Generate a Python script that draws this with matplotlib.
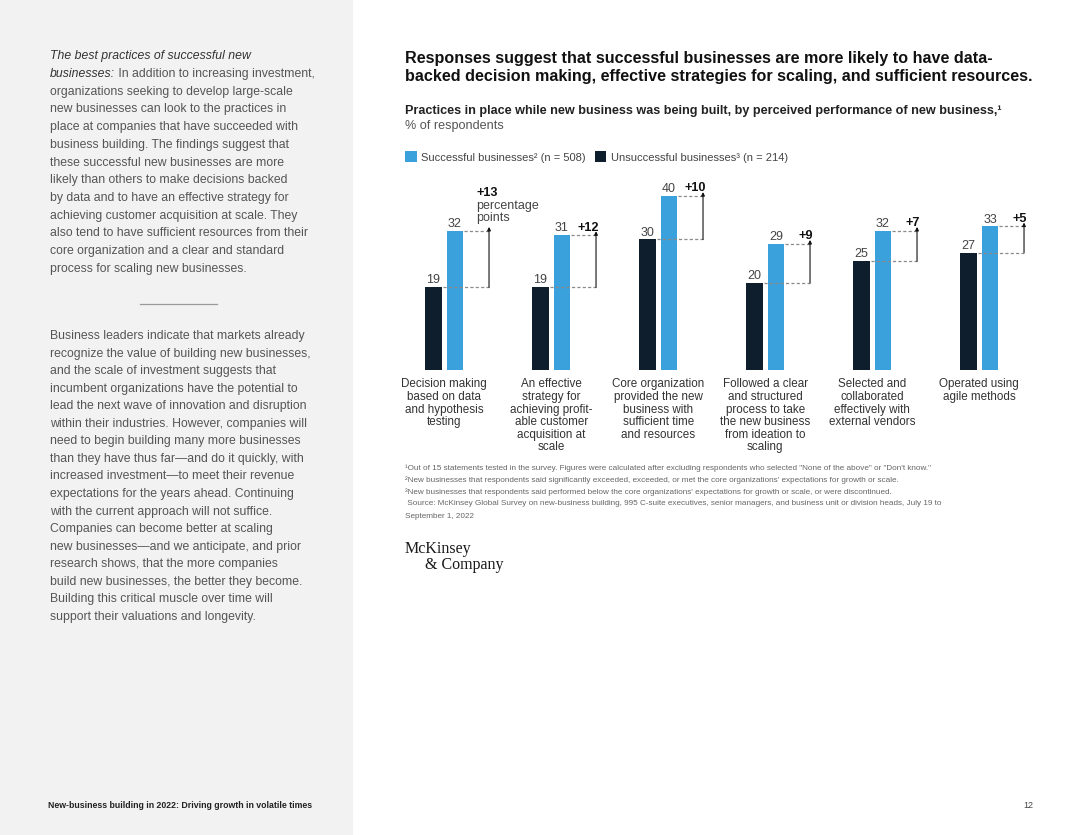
import matplotlib
matplotlib.use("Agg")
import matplotlib.pyplot as plt
from matplotlib.patches import Rectangle, Patch
from matplotlib.lines import Line2D

plt.rcParams['font.family'] = ['Liberation Sans', 'DejaVu Sans']

# data
categories = [
    "Decision making\nbased on data\nand hypothesis\ntesting",
    "An effective\nstrategy for\nachieving profit-\nable customer\nacquisition at\nscale",
    "Core organization\nprovided the new\nbusiness with\nsufficient time\nand resources",
    "Followed a clear\nand structured\nprocess to take\nthe new business\nfrom ideation to\nscaling",
    "Selected and\ncollaborated\neffectively with\nexternal vendors",
    "Operated using\nagile methods",
]
successful = [32, 31, 40, 29, 32, 33]
unsuccessful = [19, 19, 30, 20, 25, 27]
# gap in percentage points as printed (computed from unrounded shares)
point_gaps = [13, 12, 10, 9, 7, 5]

legend_labels = ["Successful businesses\u00b2 (n = 508)", "Unsuccessful businesses\u00b3 (n = 214)"]

title = ("Responses suggest that successful businesses are more likely to have data-\n"
         "backed decision making, effective strategies for scaling, and sufficient resources.")
subtitle = "Practices in place while new business was being built, by perceived performance of new business,\u00b9"
unit_label = "% of respondents"

footnotes = [
    "\u00b9Out of 15 statements tested in the survey. Figures were calculated after excluding respondents who selected \"None of the above\" or \"Don't know.\"",
    "\u00b2New businesses that respondents said significantly exceeded, exceeded, or met the core organizations' expectations for growth or scale.",
    "\u00b3New businesses that respondents said performed below the core organizations' expectations for growth or scale, or were discontinued.",
    " Source: McKinsey Global Survey on new-business building, 995 C-suite executives, senior managers, and business unit or division heads, July 19 to",
    "September 1, 2022",
]

para1_lead = ["The best practices of successful new", "businesses:"]
para1_rest = [
    " In addition to increasing investment,",
    "organizations seeking to develop large-scale",
    "new businesses can look to the practices in",
    "place at companies that have succeeded with",
    "business building. The findings suggest that",
    "these successful new businesses are more",
    "likely than others to make decisions backed",
    "by data and to have an effective strategy for",
    "achieving customer acquisition at scale. They",
    "also tend to have sufficient resources from their",
    "core organization and a clear and standard",
    "process for scaling new businesses.",
]
para2 = [
    "Business leaders indicate that markets already",
    "recognize the value of building new businesses,",
    "and the scale of investment suggests that",
    "incumbent organizations have the potential to",
    "lead the next wave of innovation and disruption",
    "within their industries. However, companies will",
    "need to begin building many more businesses",
    "than they have thus far\u2014and do it quickly, with",
    "increased investment\u2014to meet their revenue",
    "expectations for the years ahead. Continuing",
    "with the current approach will not suffice.",
    "Companies can become better at scaling",
    "new businesses\u2014and we anticipate, and prior",
    "research shows, that the more companies",
    "build new businesses, the better they become.",
    "Building this critical muscle over time will",
    "support their valuations and longevity.",
]
footer = "New-business building in 2022: Driving growth in volatile times"
page_no = "12"

BLUE = "#3aa1dc"
NAVY = "#0f1e2c"
GREY_TXT = "#555555"

W, H = 1080, 835
fig = plt.figure(figsize=(W / 100, H / 100), dpi=100)
fig.patch.set_facecolor("white")


def fx(px):
    return px / W


def fy(py):
    return 1 - py / H


# left grey panel
fig.patches.append(Rectangle((0, 0), fx(353), 1, transform=fig.transFigure,
                             facecolor="#f2f2f2", edgecolor="none", zorder=0))

body_fs = 8.8
step = 17.75
y0 = 56
t1 = fig.text(fx(50), fy(y0), para1_lead[0], style="italic", color="#333333",
              fontsize=body_fs, va="center")
t2 = fig.text(fx(50), fy(y0 + step), para1_lead[1], style="italic", color="#333333",
              fontsize=body_fs, va="center")
fig.add_artist(plt.Annotation(para1_rest[0], xy=(1, 0.5), xycoords=t2, va="center",
                              fontsize=body_fs, color=GREY_TXT))
for i, line in enumerate(para1_rest[1:]):
    fig.text(fx(50), fy(y0 + step * (i + 2)), line, color=GREY_TXT, fontsize=body_fs, va="center")

fig.add_artist(Line2D([fx(140), fx(217)], [fy(304), fy(304)], color="#9a9a9a", lw=0.9))

y1 = 336
step2 = 17.56
for i, line in enumerate(para2):
    fig.text(fx(50), fy(y1 + step2 * i), line, color=GREY_TXT, fontsize=body_fs, va="center")

fig.text(fx(48), fy(805), footer, fontsize=6.3, fontweight="bold", color="#222222", va="center")
fig.text(fx(1033), fy(805), page_no, fontsize=6.5, color="#444444", va="center", ha="right")

# titles
fig.text(fx(405), fy(67), title, fontsize=11.6, fontweight="bold", color="#111111",
         va="center", linespacing=1.25)
fig.text(fx(405), fy(111), subtitle, fontsize=9.1, fontweight="bold", color="#222222", va="center")
fig.text(fx(405), fy(126), unit_label, fontsize=9.1, color=GREY_TXT, va="center")

handles = [Patch(facecolor=BLUE, edgecolor="none"), Patch(facecolor=NAVY, edgecolor="none")]
fig.legend(handles, legend_labels, loc="center left", bbox_to_anchor=(fx(405), fy(157)),
           ncol=2, frameon=False, fontsize=8.0, handlelength=1.05, handleheight=1.15,
           handletextpad=0.4, columnspacing=0.8, labelcolor="#444444", borderaxespad=0,
           borderpad=0)

# chart
ax = fig.add_axes([fx(400), fy(370), fx(660), 200 / H])
ax.set_xlim(0, 660 / 107)
ax.set_ylim(0, 200 / 4.35)
ax.axis("off")

bw = 0.15
for i, (s, u) in enumerate(zip(successful, unsuccessful)):
    xd = i + 0.313
    xb = i + 0.514
    xa = i + 0.832
    ax.bar(xd, u, width=bw, color=NAVY, zorder=2)
    ax.bar(xb, s, width=bw, color=BLUE, zorder=2)
    ax.annotate(str(u), (xd, u), xytext=(0, 5), textcoords="offset points",
                ha="center", va="center", fontsize=9, color="#444444")
    ax.annotate(str(s), (xb, s), xytext=(0, 5), textcoords="offset points",
                ha="center", va="center", fontsize=9, color="#444444")
    ax.plot([xd + bw / 2 + 0.01, xa], [u, u], ls=(0, (2.5, 1.8)), color="#8a8a8a", lw=0.9, zorder=3)
    ax.plot([xb + bw / 2 + 0.01, xa], [s, s], ls=(0, (2.5, 1.8)), color="#8a8a8a", lw=0.9, zorder=3)
    ax.annotate("", xy=(xa, s + 0.9), xytext=(xa, u),
                arrowprops=dict(arrowstyle="-|>", color="#111111", lw=0.8,
                                mutation_scale=5, shrinkA=0, shrinkB=0))
    gap = "+%d" % point_gaps[i]
    if i == 0:
        ax.annotate(gap, (xa, s), xytext=(-9, 27.5), textcoords="offset points",
                    ha="left", va="center", fontsize=9.2, fontweight="bold", color="#111111")
        ax.annotate("percentage", (xa, s), xytext=(-9, 17.8), textcoords="offset points",
                    ha="left", va="center", fontsize=9, color="#444444")
        ax.annotate("points", (xa, s), xytext=(-9, 9.2), textcoords="offset points",
                    ha="left", va="center", fontsize=9, color="#444444")
    else:
        ax.annotate(gap, (xa, s), xytext=(2, 5.5), textcoords="offset points",
                    ha="right", va="center", fontsize=9.2, fontweight="bold", color="#111111")
    ax.annotate(categories[i], ((xd + xb) / 2, 0), xytext=(0, -6), textcoords="offset points",
                ha="center", va="top", fontsize=8.4, color="#333333", linespacing=1.07)

# footnotes
for i, line in enumerate(footnotes):
    fig.text(fx(405), fy(468 + 12 * i), line, fontsize=5.9, color="#666666", va="center")

# logo
fig.text(fx(405), fy(549), "McKinsey", family="Liberation Serif", fontsize=11.5,
         color="#1a1a1a", va="center")
fig.text(fx(425), fy(565), "& Company", family="Liberation Serif", fontsize=11.5,
         color="#1a1a1a", va="center")

fig.savefig("out.png", dpi=100)
